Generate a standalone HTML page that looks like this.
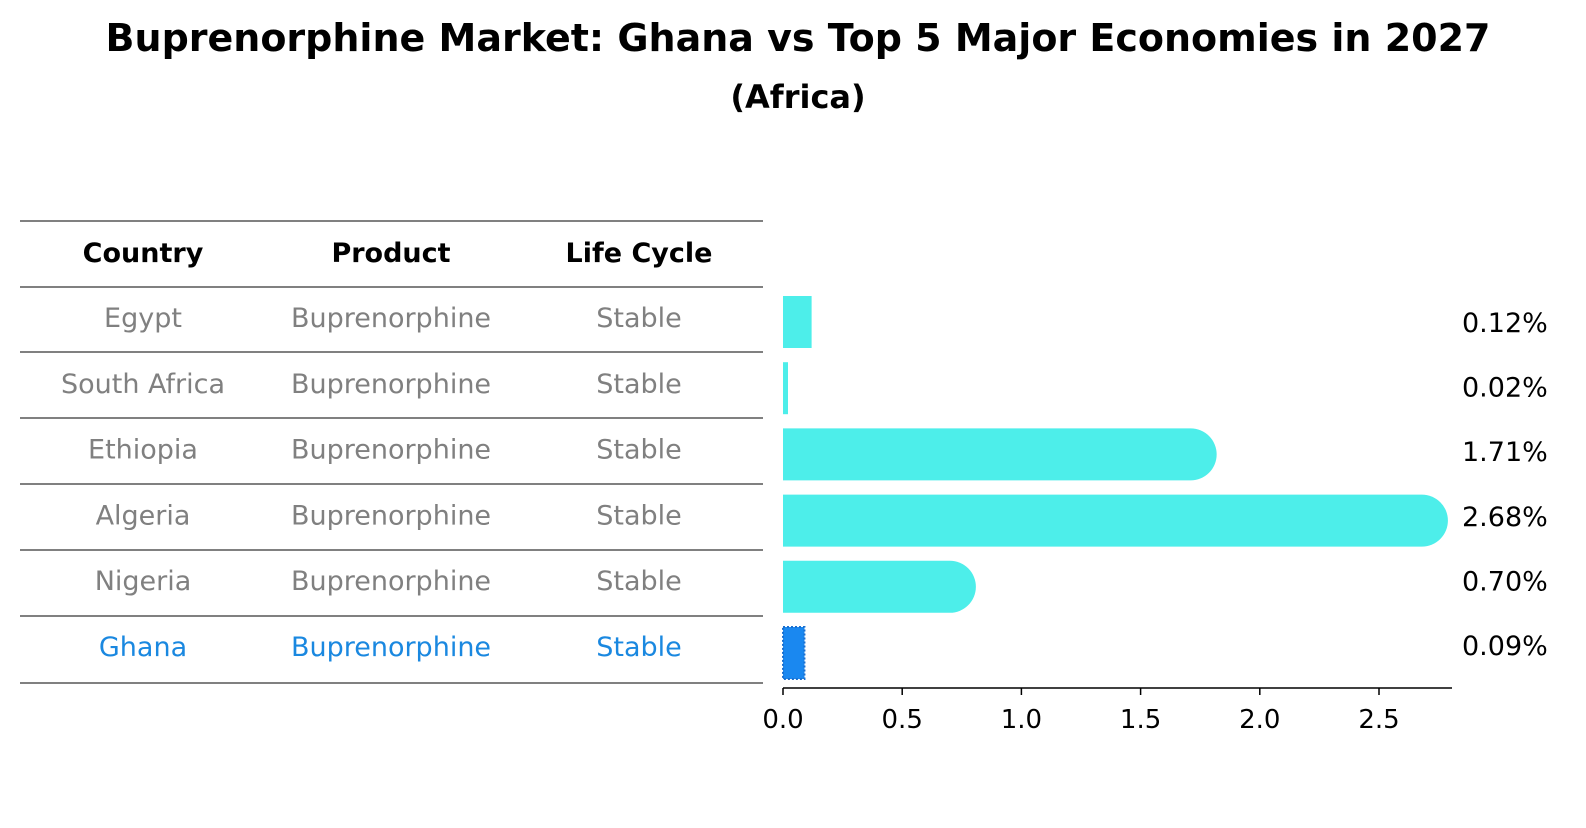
<!DOCTYPE html>
<html><head><meta charset="utf-8"><style>
body{margin:0;background:#fff;font-family:"Liberation Sans","DejaVu Sans",sans-serif}
svg text{font-family:"DejaVu Sans","Liberation Sans",sans-serif}
</style></head><body>
<svg id="c" width="1586" height="823" viewBox="0 0 1586 823" xmlns="http://www.w3.org/2000/svg">
<text x="798" y="51" text-anchor="middle" font-size="38" font-weight="bold">Buprenorphine Market: Ghana vs Top 5 Major Economies in 2027</text>
<text x="798" y="108" text-anchor="middle" font-size="32" font-weight="bold">(Africa)</text>
<g id="tbl"></g>
<g id="bars"></g>
<g id="axis"></g>
</svg>
<script>
const countries=["Egypt","South Africa","Ethiopia","Algeria","Nigeria","Ghana"];
const products=["Buprenorphine","Buprenorphine","Buprenorphine","Buprenorphine","Buprenorphine","Buprenorphine"];
const lifecycle=["Stable","Stable","Stable","Stable","Stable","Stable"];
const values=[0.12,0.02,1.71,2.68,0.70,0.09];
const valueLabels=["0.12%","0.02%","1.71%","2.68%","0.70%","0.09%"];
const ticks=[0,0.5,1.0,1.5,2.0,2.5];
const NS="http://www.w3.org/2000/svg";
const x=v=>783+v*238.4;
const yc=i=>321+65.2*i;
function mk(tag,attrs,parent,txt){const e=document.createElementNS(NS,tag);for(const k in attrs)e.setAttribute(k,attrs[k]);if(txt!==undefined)e.textContent=txt;parent.appendChild(e);return e;}
const tbl=document.getElementById('tbl'),bars=document.getElementById('bars'),ax=document.getElementById('axis');
const lines=[221,287,352,418,484,550,616,683];
lines.forEach(ly=>{const l=mk('line',{x1:20,x2:763,y1:ly,y2:ly,stroke:'#000','stroke-width':1},tbl);

});
const cols=[143,391,639];
["Country","Product","Life Cycle"].forEach((h,j)=>{const t=mk('text',{x:cols[j],y:262,'text-anchor':'middle','font-size':27,'font-weight':'bold'},tbl,h);

});
countries.forEach((c,i)=>{
 const col=c==="Ghana"?"#1a88e0":"#808080";
 [c,products[i],lifecycle[i]].forEach((s,j)=>{const t=mk('text',{x:cols[j],y:327+65.8*i,'text-anchor':'middle','font-size':27,fill:col},tbl,s);
 
 });
 const v=values[i],x0=x(0),x1=x(v),top=yc(i)-25+i,h=52,r=26;
 let el;
 if(c==="Ghana"){
  el=mk('rect',{x:x0,y:top,width:x1-x0,height:h,fill:'#1a88f0',stroke:'#1a70d0','stroke-width':2,'stroke-dasharray':'2,2'},bars);
 }else if(v>0.5){
  el=mk('path',{d:`M${x0},${top}H${x1}A${r},${r} 0 0 1 ${x1},${top+h}H${x0}Z`,fill:'#4deeea'},bars);
 }else{
  el=mk('rect',{x:x0,y:top,width:Math.max(x1-x0,5),height:h,fill:'#4deeea'},bars);
 }
 
 
 const t=mk('text',{x:1462,y:332+64.6*i,'font-size':27},bars,valueLabels[i]);
 
 
});
const al=mk('line',{x1:783,x2:1452,y1:688,y2:688,stroke:'#000','stroke-width':1.5},ax);


ticks.forEach(tv=>{const l=mk('line',{x1:x(tv),x2:x(tv),y1:688,y2:695,stroke:'#000','stroke-width':1.5},ax);


const t=mk('text',{x:x(tv),y:728,'text-anchor':'middle','font-size':26},ax,tv.toFixed(1));

});
</script>
</body></html>
